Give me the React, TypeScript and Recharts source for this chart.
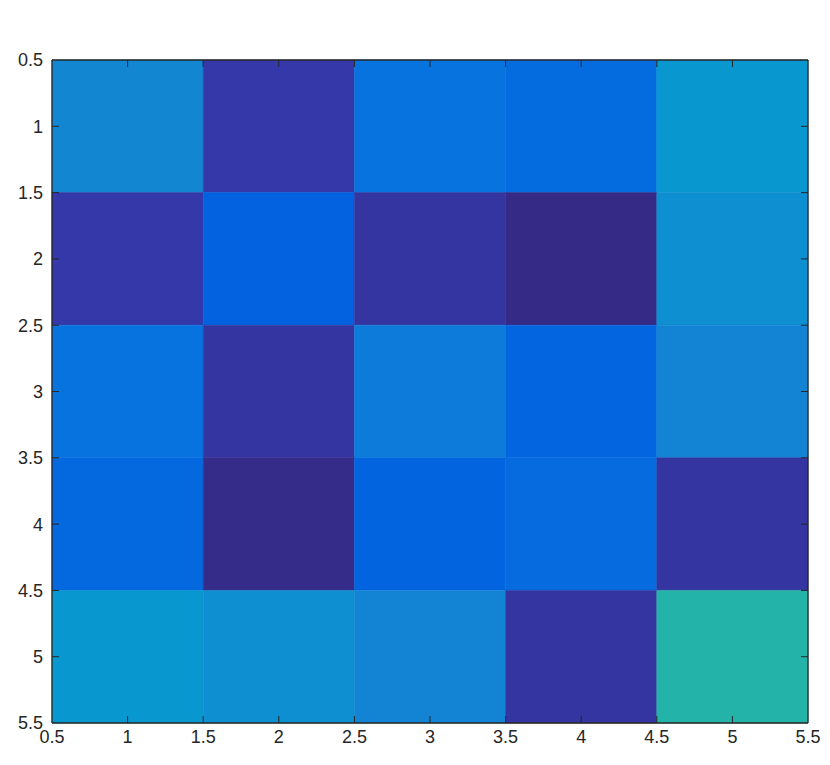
import React from "react";
import { ScatterChart, Scatter, XAxis, YAxis, ReferenceArea, ReferenceLine } from "recharts";

// Grid categories (column / row indices)
const columns = [1, 2, 3, 4, 5];
const rows = [1, 2, 3, 4, 5];
// Tick labels
const xTicks = [0.5, 1, 1.5, 2, 2.5, 3, 3.5, 4, 4.5, 5, 5.5];
const yTicks = [0.5, 1, 1.5, 2, 2.5, 3, 3.5, 4, 4.5, 5, 5.5];
// Cell values by row
const row1 = [0.45, 0.1, 0.35, 0.31, 0.55];
const row2 = [0.1, 0.25, 0.08, 0.0, 0.5];
const row3 = [0.35, 0.08, 0.39, 0.27, 0.44];
const row4 = [0.29, 0.01, 0.26, 0.3, 0.08];
const row5 = [0.55, 0.5, 0.44, 0.08, 0.7];
const values = [row1, row2, row3, row4, row5];
const domain: [number, number] = [0.5, 5.5];

// colormap stops (parula-like)
const stops: [number, string][] = [
  [0.0, "#352A86"],
  [0.1, "#3538A8"],
  [0.25, "#0262E0"],
  [0.35, "#0773DE"],
  [0.45, "#1386D2"],
  [0.55, "#0898CF"],
  [0.7, "#24B3A9"],
];

function hexToRgb(h: string) {
  const n = parseInt(h.slice(1), 16);
  return [(n >> 16) & 255, (n >> 8) & 255, n & 255];
}
function colorFor(v: number) {
  if (v <= stops[0][0]) return stops[0][1];
  for (let i = 1; i < stops.length; i++) {
    if (v <= stops[i][0]) {
      const [t0, c0] = stops[i - 1];
      const [t1, c1] = stops[i];
      const f = (v - t0) / (t1 - t0);
      const a = hexToRgb(c0);
      const b = hexToRgb(c1);
      const m = a.map((x, k) => Math.round(x + (b[k] - x) * f));
      return `rgb(${m[0]},${m[1]},${m[2]})`;
    }
  }
  return stops[stops.length - 1][1];
}

const cells = rows.flatMap((r, ri) =>
  columns.map((c, ci) => ({ x: c, y: r, v: values[ri][ci] }))
);

const AX = "#262626";
const FONT = "Arial, 'Liberation Sans', sans-serif";
const FS = 18;
const TL = 7;
const GAPY = 9;
const GAPX = 7;

const LeftTick = (p: any) => {
  const { x, y, payload } = p;
  return (
    <text x={x} y={y} textAnchor="end" dy="0.36em" fontSize={FS} fill={AX} fontFamily={FONT}>
      {payload.value}
    </text>
  );
};
const BottomTick = (p: any) => {
  const { x, y, payload } = p;
  return (
    <text x={x} y={y} textAnchor="middle" dy="0.72em" fontSize={FS} fill={AX} fontFamily={FONT}>
      {payload.value}
    </text>
  );
};

// inward tick marks at both ends of a horizontal reference line
const HTicks = (p: any) => {
  const l = Math.min(p.x1, p.x2);
  const r = Math.max(p.x1, p.x2);
  const y = p.y1;
  return (
    <g>
      <line x1={l} x2={l + TL} y1={y} y2={y} stroke={AX} strokeWidth={1} />
      <line x1={r} x2={r - TL} y1={y} y2={y} stroke={AX} strokeWidth={1} />
    </g>
  );
};
// inward tick marks at both ends of a vertical reference line
const VTicks = (p: any) => {
  const t = Math.min(p.y1, p.y2);
  const b = Math.max(p.y1, p.y2);
  const x = p.x1;
  return (
    <g>
      <line x1={x} x2={x} y1={t} y2={t + TL} stroke={AX} strokeWidth={1} />
      <line x1={x} x2={x} y1={b} y2={b - TL} stroke={AX} strokeWidth={1} />
    </g>
  );
};

export default function App() {
  return (
    <ScatterChart width={814} height={749} margin={{ top: 52, right: 14, bottom: 8, left: 0 }}>
      <XAxis
        xAxisId="b"
        type="number"
        dataKey="x"
        domain={domain}
        ticks={xTicks}
        allowDataOverflow
        orientation="bottom"
        height={26}
        tickLine={false}
        tickSize={0}
        tickMargin={GAPX}
        axisLine={false}
        tick={<BottomTick />}
        interval={0}
      />
      <YAxis
        yAxisId="l"
        type="number"
        dataKey="y"
        domain={domain}
        ticks={yTicks}
        reversed
        allowDataOverflow
        orientation="left"
        width={44}
        tickLine={false}
        tickSize={0}
        tickMargin={GAPY}
        axisLine={false}
        tick={<LeftTick />}
        interval={0}
      />
      {cells.map((c, i) => (
        <ReferenceArea
          key={`c${i}`}
          xAxisId="b"
          yAxisId="l"
          x1={c.x - 0.5}
          x2={c.x + 0.5}
          y1={c.y - 0.5}
          y2={c.y + 0.5}
          fill={colorFor(c.v)}
          fillOpacity={1}
          stroke={colorFor(c.v)}
          strokeWidth={0.5}
          ifOverflow="visible"
        />
      ))}
      {yTicks.slice(1, -1).map((t) => (
        <ReferenceLine key={`hy${t}`} xAxisId="b" yAxisId="l" y={t} shape={<HTicks />} ifOverflow="visible" />
      ))}
      {xTicks.slice(1, -1).map((t) => (
        <ReferenceLine key={`vx${t}`} xAxisId="b" yAxisId="l" x={t} shape={<VTicks />} ifOverflow="visible" />
      ))}
      {domain.map((d) => (
        <ReferenceLine key={`fx${d}`} xAxisId="b" yAxisId="l" x={d} stroke={AX} strokeWidth={1.3} ifOverflow="visible" />
      ))}
      {domain.map((d) => (
        <ReferenceLine key={`fy${d}`} xAxisId="b" yAxisId="l" y={d} stroke={AX} strokeWidth={1.3} ifOverflow="visible" />
      ))}
      <Scatter
        xAxisId="b"
        yAxisId="l"
        data={cells}
        fill="none"
        shape={() => <g />}
        isAnimationActive={false}
      />
    </ScatterChart>
  );
}
